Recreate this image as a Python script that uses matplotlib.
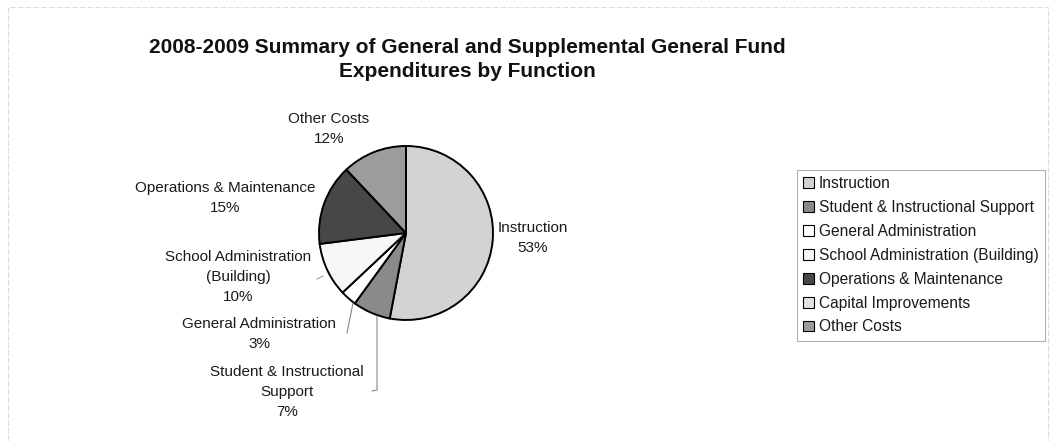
import matplotlib
matplotlib.use("Agg")
import matplotlib.pyplot as plt
from matplotlib.patches import Patch

plt.rcParams['font.family'] = ['Liberation Sans', 'DejaVu Sans']

categories = [
    "Instruction",
    "Student & Instructional Support",
    "General Administration",
    "School Administration (Building)",
    "Operations & Maintenance",
    "Capital Improvements",
    "Other Costs",
]
shares = [53, 7, 3, 10, 15, 0, 12]
slice_labels = [
    "Instruction",
    "Student & Instructional\nSupport",
    "General Administration",
    "School Administration\n(Building)",
    "Operations & Maintenance",
    "Capital Improvements",
    "Other Costs",
]
colors = ["#d3d3d3", "#8a8a8a", "#ffffff", "#f6f6f6", "#474747", "#e2e2e2", "#9c9c9c"]

W, H = 1050, 441
fig = plt.figure(figsize=(W / 100, H / 100), dpi=100)
ax = fig.add_axes([0, 0, 1, 1])
ax.axis("off")


def py(y):
    # convert a top-down pixel row into axis units
    return H - y


# faint outer frame
ax.plot([8, 8, 1048, 1048], [py(441), py(7), py(7), py(441)],
        color="#dddddd", lw=0.7, ls=(0, (6, 2)))

ax.text(467, py(59.5), "2008-2009 Summary of General and Supplemental General Fund\nExpenditures by Function",
        ha="center", va="center", fontsize=15, fontweight="bold", linespacing=1.38,
        color="#111111")

wedges, _ = ax.pie(shares, colors=colors, startangle=90, counterclock=False,
                   center=(406, py(233)), radius=87,
                   wedgeprops=dict(edgecolor="black", linewidth=1.4))
ax.set_xlim(0, W)
ax.set_ylim(0, H)
ax.set_aspect("auto")

# slice labels: (x, y centre in pixels)
label_pos = {
    0: (533, 238),
    1: (287, 392),
    2: (259, 334),
    3: (238, 277),
    4: (225, 198),
    6: (329, 129),
}
for i, (x, y) in label_pos.items():
    ax.text(x, py(y), f"{slice_labels[i]}\n{shares[i]}%", ha="center", va="center",
            fontsize=11, linespacing=1.55, color="#1a1a1a")

# leader lines
ax.plot([353, 347], [py(303), py(333)], color="#777777", lw=0.7)
ax.plot([377, 377, 372], [py(316), py(390), py(391)], color="#777777", lw=0.7)
ax.plot([317, 323], [py(279), py(276)], color="#999999", lw=0.7)

handles = [Patch(facecolor=c, edgecolor="black", linewidth=0.8) for c in colors]
leg = ax.legend(handles, categories, loc="upper left",
                bbox_to_anchor=(797 / W, 1 - 170 / H), bbox_transform=fig.transFigure,
                fontsize=11.2, frameon=True, fancybox=False, framealpha=1,
                edgecolor="#b0b0b0", handlelength=0.7, handleheight=0.7,
                handletextpad=0.3, labelspacing=0.57, borderpad=0.4,
                borderaxespad=0)
leg.get_frame().set_linewidth(0.8)
for t in leg.get_texts():
    t.set_color("#1a1a1a")

fig.savefig("out.png", dpi=100)
